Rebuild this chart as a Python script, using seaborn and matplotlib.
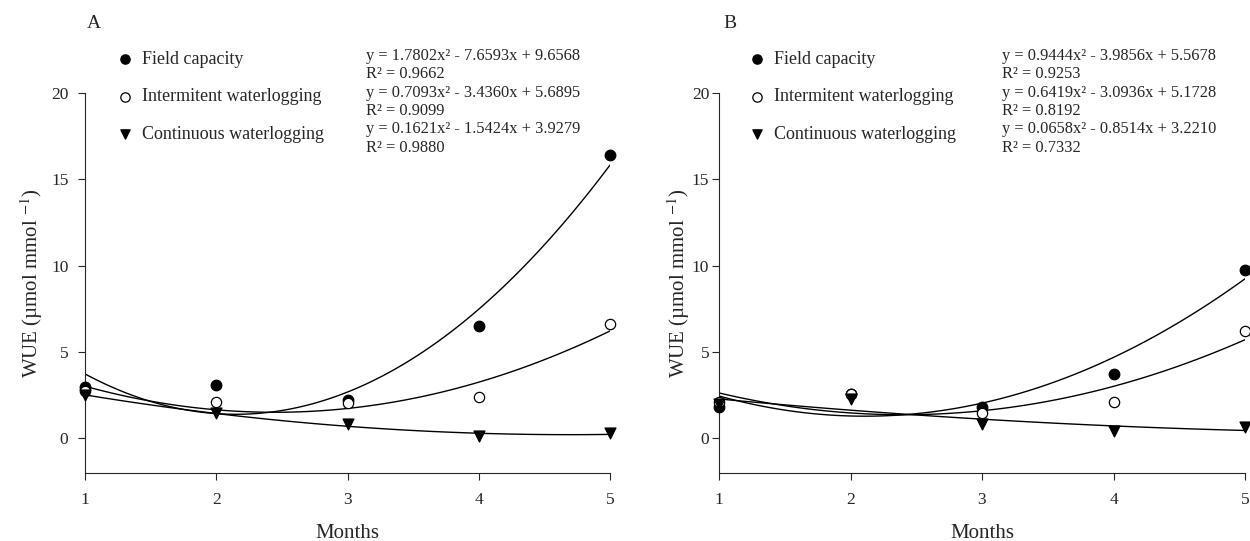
import numpy as np
import pandas as pd
import matplotlib
matplotlib.use('Agg')
import matplotlib.pyplot as plt
import seaborn as sns

# values
months = [1, 2, 3, 4, 5]
a_field = [3.0, 3.07, 2.2, 6.5, 16.4]
a_inter = [2.75, 2.1, 2.05, 2.4, 6.6]
a_cont = [2.5, 1.45, 0.83, 0.13, 0.3]
b_field = [1.85, 2.6, 1.8, 3.72, 9.77]
b_inter = [2.1, 2.6, 1.45, 2.1, 6.2]
b_cont = [2.0, 2.3, 0.85, 0.42, 0.66]

treatments = ['Field capacity', 'Intermitent waterlogging', 'Continuous waterlogging']
eq_a = ['y = 1.7802x² - 7.6593x + 9.6568', 'R² = 0.9662',
        'y = 0.7093x² - 3.4360x + 5.6895', 'R² = 0.9099',
        'y = 0.1621x² - 1.5424x + 3.9279', 'R² = 0.9880']
eq_b = ['y = 0.9444x² - 3.9856x + 5.5678', 'R² = 0.9253',
        'y = 0.6419x² - 3.0936x + 5.1728', 'R² = 0.8192',
        'y = 0.0658x² - 0.8514x + 3.2210', 'R² = 0.7332']

sns.set_style('ticks')
plt.rcParams['font.family'] = ['Liberation Serif', 'DejaVu Serif']
plt.rcParams['mathtext.fontset'] = 'stix'

styles = {
    'Field capacity': dict(marker='o', facecolor='black', s=58),
    'Intermitent waterlogging': dict(marker='o', facecolor='white', s=55),
    'Continuous waterlogging': dict(marker='v', facecolor='black', s=62),
}

fig = plt.figure(figsize=(12.5, 5.41), dpi=100)
ax_a = fig.add_axes([85 / 1250, 68 / 541, 525 / 1250, 380 / 541])
ax_b = fig.add_axes([719 / 1250, 68 / 541, 526 / 1250, 380 / 541])


def panel(ax, series, eqs, letter, leg_x, eq_x, let_x, ypad, lpad):
    for name, vals in zip(treatments, series):
        df = pd.DataFrame({'Months': months, 'WUE': vals})
        sns.regplot(data=df, x='Months', y='WUE', order=2, ci=None, scatter=False,
                    color='black', line_kws=dict(lw=1.0), ax=ax)
    for name, vals in zip(treatments, series):
        df = pd.DataFrame({'Months': months, 'WUE': vals})
        st = styles[name]
        sns.scatterplot(data=df, x='Months', y='WUE', marker=st['marker'], s=st['s'],
                        color=st['facecolor'], edgecolor='black', linewidth=0.9,
                        label=name, clip_on=False, zorder=5, ax=ax)
    ax.set_xlim(1, 5)
    ax.set_ylim(-2, 20)
    ax.set_xticks([1, 2, 3, 4, 5])
    ax.set_yticks([0, 5, 10, 15, 20])
    ax.tick_params(labelsize=12.5, length=5, width=0.8)
    ax.tick_params(axis='x', pad=9)
    ax.tick_params(axis='y', pad=ypad)
    for sp in ['left', 'bottom']:
        ax.spines[sp].set_linewidth(0.8)
    sns.despine(ax=ax)
    ax.set_xlabel('Months', fontsize=15, labelpad=11)
    ax.set_ylabel('WUE (µmol mmol $^{-1}$)', fontsize=15, labelpad=lpad)
    leg = ax.legend(loc='upper left', bbox_to_anchor=(leg_x, 1.129), frameon=False,
                    fontsize=13, labelspacing=1.12, handletextpad=0.44,
                    handlelength=1.0, borderaxespad=0)
    for h in leg.legend_handles:
        h.set_sizes([45])
    for i, t in enumerate(eqs):
        fig.text(eq_x, 1 - (56 + 18.3 * i) / 541, t, fontsize=11.8, va='center', ha='left')
    fig.text(let_x, 1 - 23 / 541, letter, fontsize=14, va='center', ha='center')


panel(ax_a, [a_field, a_inter, a_cont], eq_a, 'A', 0.045, 366 / 1250, 94 / 1250, 7, 4)
panel(ax_b, [b_field, b_inter, b_cont], eq_b, 'B', 0.041, 1002 / 1250, 730 / 1250, 2, 0)

fig.savefig('out.png', dpi=100)
